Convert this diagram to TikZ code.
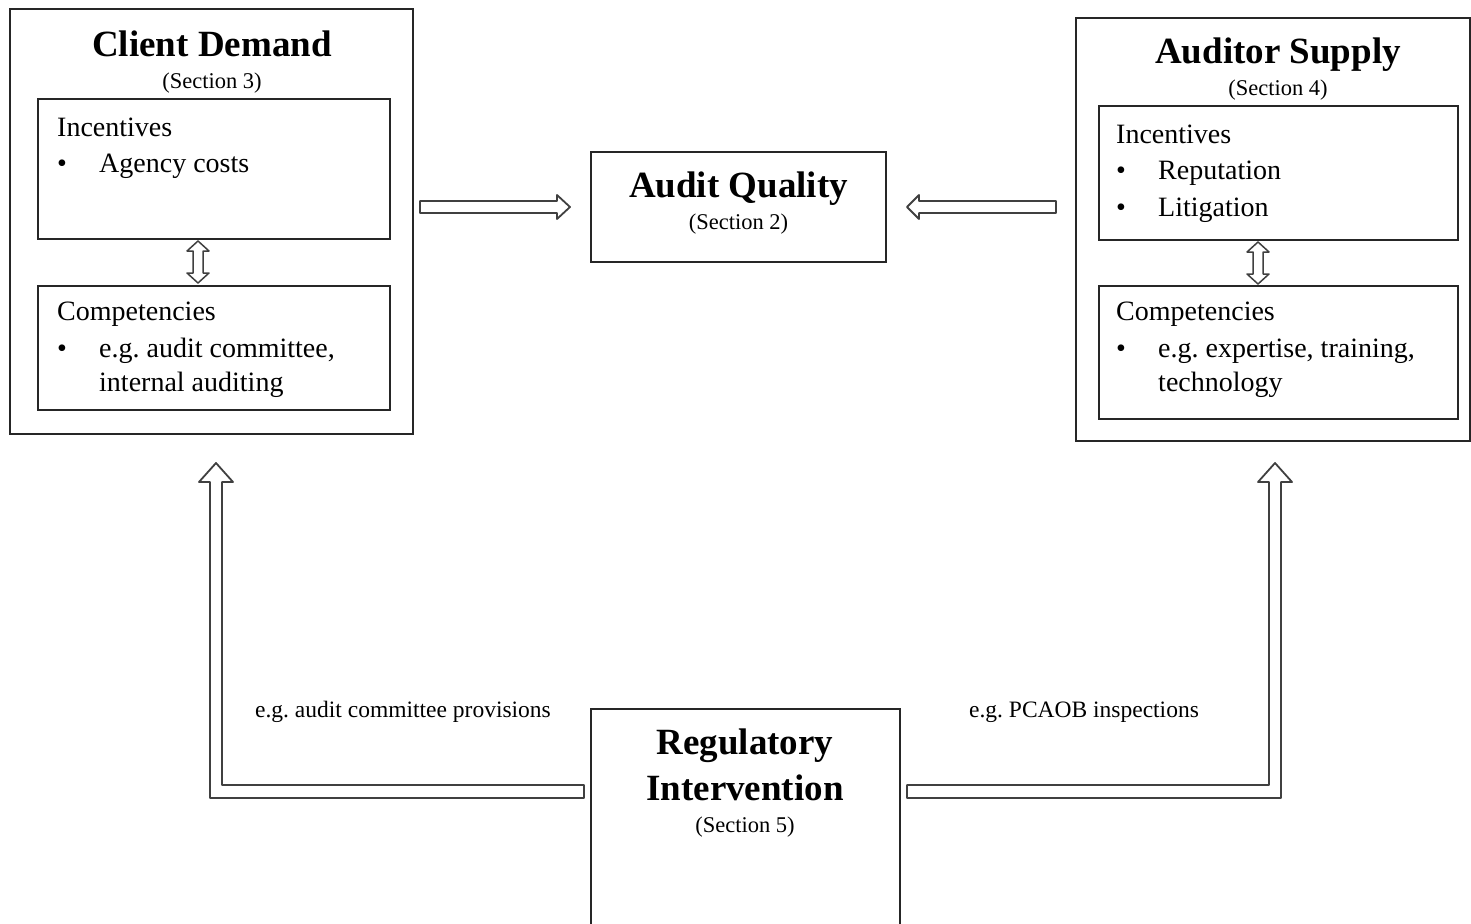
\documentclass[tikz,border=0pt]{standalone}
\usepackage{fontspec}
\setmainfont{Liberation Serif}
\begin{document}
\frenchspacing
\begin{tikzpicture}[x=1pt,y=-1pt,
 box/.style={draw=black!85,line width=1.6pt,inner sep=0pt},
 ttl/.style={font=\fontsize{37}{44}\selectfont\bfseries,anchor=base,inner sep=0pt},
 sect/.style={font=\fontsize{22.5}{26}\selectfont,anchor=base,inner sep=0pt},
 body/.style={font=\fontsize{28}{34}\selectfont,anchor=base west,inner sep=0pt},
 lbl/.style={font=\fontsize{23.5}{28}\selectfont,anchor=base,inner sep=0pt},
 harrow/.style={draw=black!75,line width=1.8pt,fill=white,line join=round}]
\useasboundingbox (0,0) rectangle (1471,923);
\fill[white] (0,0) rectangle (1471,923);
% boxes
\node[box,minimum width=403,minimum height=425] (cd) at (211.5,221.5) {};
\node[box,minimum width=352,minimum height=140] (cdi) at (214,169) {};
\node[box,minimum width=352,minimum height=124] (cdc) at (214,348) {};
\node[box,minimum width=295,minimum height=110] (aq) at (738.5,207) {};
\node[box,minimum width=394,minimum height=423] (as) at (1273,229.5) {};
\node[box,minimum width=359,minimum height=134] (asi) at (1278.5,173) {};
\node[box,minimum width=359,minimum height=133] (asc) at (1278.5,352.5) {};
\node[box,minimum width=309,minimum height=231] (ri) at (745.5,824.5) {};
% texts
\node[ttl] (t1) at (212,57) {Client Demand};
\node[sect] (s1) at (212,89) {(Section 3)};
\node[body] (i1) at (57,136) {Incentives};
\node[body] (b1) at (57,172) {\textbullet};
\node[body] (i1a) at (99,172) {Agency costs};
\node[body] (c1) at (57,320) {Competencies};
\node[body] (b2) at (57,357) {\textbullet};
\node[body] (c1a) at (99,357) {e.g. audit committee,};
\node[body] (c1b) at (99,391) {internal auditing};
\node[ttl] (t2) at (738.5,197) {Audit Quality};
\node[sect] (s2) at (738.5,229) {(Section 2)};
\node[ttl] (t3) at (1278,64) {Auditor Supply};
\node[sect] (s3) at (1278,96) {(Section 4)};
\node[body] (i3) at (1116,143) {Incentives};
\node[body] (b3) at (1116,179) {\textbullet};
\node[body] (i3a) at (1158,179) {Reputation};
\node[body] (b4) at (1116,216) {\textbullet};
\node[body] (i3b) at (1158,216) {Litigation};
\node[body] (c3) at (1116,320) {Competencies};
\node[body] (b5) at (1116,357) {\textbullet};
\node[body] (c3a) at (1158,357) {e.g. expertise, training,};
\node[body] (c3b) at (1158,391) {technology};
\node[ttl] (t4) at (745,754) {Regulatory};
\node[ttl] (t5) at (745,800) {Intervention};
\node[sect] (s4) at (745,832) {(Section 5)};
\node[lbl] (l1) at (403,717) {e.g. audit committee provisions};
\node[lbl] (l2) at (1084,717) {e.g. PCAOB inspections};
% hollow arrows
\draw[harrow] (420,201) -- (557,201) -- (557,195) -- (570,207) -- (557,219) -- (557,213) -- (420,213) -- cycle;
\draw[harrow] (1056,201) -- (919,201) -- (919,195) -- (907,207) -- (919,219) -- (919,213) -- (1056,213) -- cycle;
\draw[harrow,line width=1.5pt] (198,241) -- (209,251) -- (203,251) -- (203,273) -- (209,273) -- (198,283) -- (187,273) -- (193,273) -- (193,251) -- (187,251) -- cycle;
\draw[harrow,line width=1.5pt] (1258,242) -- (1269,252) -- (1263,252) -- (1263,274) -- (1269,274) -- (1258,284) -- (1247,274) -- (1253,274) -- (1253,252) -- (1247,252) -- cycle;
\draw[harrow] (584,785) -- (222,785) -- (222,482) -- (233,482) -- (216,463) -- (199,482) -- (210,482) -- (210,798) -- (584,798) -- cycle;
\draw[harrow] (907,785) -- (1269,785) -- (1269,482) -- (1258,482) -- (1275,463) -- (1292,482) -- (1281,482) -- (1281,798) -- (907,798) -- cycle;
\end{tikzpicture}
\end{document}
